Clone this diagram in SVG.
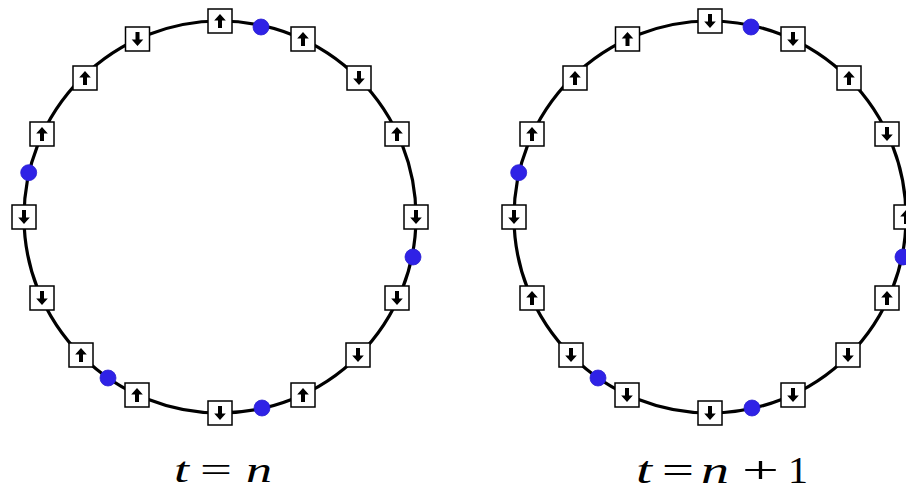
<svg xmlns="http://www.w3.org/2000/svg" xmlns:xlink="http://www.w3.org/1999/xlink" width="906" height="495" viewBox="0 0 906 495">
<style>
.ring{fill:none;stroke:#000;stroke-width:3.2}
.box{fill:#fff;stroke:#000;stroke-width:1.5}
.arr{fill:#000}
.dot{fill:#2f22e6;stroke:#2a1fd0;stroke-width:0.8}
.lbl{font-family:"Liberation Serif","Times New Roman",serif;fill:#000}
.v{font-style:italic}
</style>
<defs>
<g id="up"><rect class="box" x="-12" y="-12" width="24" height="24"/><path class="arr" d="M0,-7 L5.8,-0.6 L2,-0.6 L2,7 L-2,7 L-2,-0.6 L-5.8,-0.6 Z"/></g>
<g id="down"><rect class="box" x="-12" y="-12" width="24" height="24"/><path class="arr" d="M0,7 L5.8,0.6 L2,0.6 L2,-7 L-2,-7 L-2,0.6 L-5.8,0.6 Z"/></g>
</defs>
<rect width="906" height="495" fill="#fff"/>
<g id="connectors">
<circle class="ring" cx="220" cy="217" r="196"/>
<circle class="ring" cx="710" cy="217" r="196"/>
</g>
<g id="left-ring">
<g id="L0"><use xlink:href="#down" x="416" y="217"/></g>
<g id="L1"><use xlink:href="#up" x="397" y="134"/></g>
<g id="L2"><use xlink:href="#down" x="359" y="78"/></g>
<g id="L3"><use xlink:href="#up" x="303" y="39"/></g>
<g id="L4"><use xlink:href="#up" x="220" y="21"/></g>
<g id="L5"><use xlink:href="#down" x="137.5" y="39"/></g>
<g id="L6"><use xlink:href="#up" x="85" y="78"/></g>
<g id="L7"><use xlink:href="#up" x="42" y="134"/></g>
<g id="L8"><use xlink:href="#down" x="24" y="217"/></g>
<g id="L9"><use xlink:href="#down" x="42" y="298"/></g>
<g id="L10"><use xlink:href="#up" x="81" y="355"/></g>
<g id="L11"><use xlink:href="#up" x="137" y="395"/></g>
<g id="L12"><use xlink:href="#down" x="220" y="413"/></g>
<g id="L13"><use xlink:href="#up" x="303" y="395"/></g>
<g id="L14"><use xlink:href="#down" x="358" y="355"/></g>
<g id="L15"><use xlink:href="#down" x="397" y="298"/></g>
<g id="Ld1"><circle class="dot" cx="261" cy="27" r="8"/></g>
<g id="Ld2"><circle class="dot" cx="28.7" cy="172.7" r="8"/></g>
<g id="Ld3"><circle class="dot" cx="413" cy="257" r="8"/></g>
<g id="Ld4"><circle class="dot" cx="108" cy="378" r="8"/></g>
<g id="Ld5"><circle class="dot" cx="262" cy="408" r="8"/></g>
</g>
<g id="right-ring">
<g id="R0"><use xlink:href="#up" x="906" y="217"/></g>
<g id="R1"><use xlink:href="#down" x="887" y="134"/></g>
<g id="R2"><use xlink:href="#up" x="849" y="78"/></g>
<g id="R3"><use xlink:href="#down" x="793" y="39"/></g>
<g id="R4"><use xlink:href="#down" x="710" y="21"/></g>
<g id="R5"><use xlink:href="#up" x="627.5" y="39"/></g>
<g id="R6"><use xlink:href="#up" x="575" y="78"/></g>
<g id="R7"><use xlink:href="#up" x="532" y="134"/></g>
<g id="R8"><use xlink:href="#down" x="514" y="217"/></g>
<g id="R9"><use xlink:href="#up" x="532" y="298"/></g>
<g id="R10"><use xlink:href="#down" x="571" y="355"/></g>
<g id="R11"><use xlink:href="#down" x="627" y="395"/></g>
<g id="R12"><use xlink:href="#down" x="710" y="413"/></g>
<g id="R13"><use xlink:href="#down" x="793" y="395"/></g>
<g id="R14"><use xlink:href="#down" x="848" y="355"/></g>
<g id="R15"><use xlink:href="#up" x="887" y="298"/></g>
<g id="Rd1"><circle class="dot" cx="751" cy="27" r="8"/></g>
<g id="Rd2"><circle class="dot" cx="518.7" cy="172.7" r="8"/></g>
<g id="Rd3"><circle class="dot" cx="903" cy="257" r="8"/></g>
<g id="Rd4"><circle class="dot" cx="598" cy="378" r="8"/></g>
<g id="Rd5"><circle class="dot" cx="752" cy="408" r="8"/></g>
</g>
<g id="label-left" class="lbl">
<text class="v" x="174" y="482" font-size="36" textLength="15" lengthAdjust="spacingAndGlyphs">t</text>
<text x="200" y="482" font-size="36" textLength="32" lengthAdjust="spacingAndGlyphs">=</text>
<text class="v" x="246" y="482" font-size="36" textLength="26" lengthAdjust="spacingAndGlyphs">n</text>
</g>
<g id="label-right" class="lbl">
<text class="v" x="636" y="483" font-size="38" textLength="16" lengthAdjust="spacingAndGlyphs">t</text>
<text x="662" y="483" font-size="38" textLength="32" lengthAdjust="spacingAndGlyphs">=</text>
<text class="v" x="701" y="483" font-size="38" textLength="28" lengthAdjust="spacingAndGlyphs">n</text>
<text x="742" y="483" font-size="38" textLength="37" lengthAdjust="spacingAndGlyphs">+</text>
<text x="788" y="483" font-size="38" textLength="20" lengthAdjust="spacingAndGlyphs">1</text>
</g>
</svg>
